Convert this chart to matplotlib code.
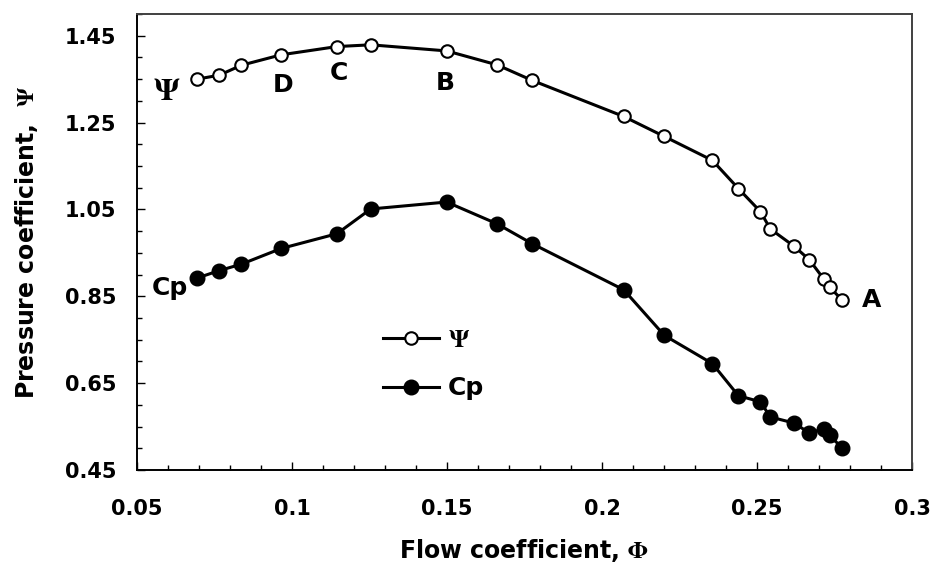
#!/usr/bin/env python3
"""Pressure coefficient vs flow coefficient (Psi and Cp curves)."""

import matplotlib
matplotlib.use("Agg")
import matplotlib.pyplot as plt
from matplotlib.ticker import MultipleLocator

# flow coefficient (shared by both curves)
PHI = [0.0694, 0.0765, 0.0837, 0.0965, 0.1145, 0.1254, 0.1499, 0.1661, 0.1775,
       0.2070, 0.2201, 0.2356, 0.2440, 0.2511, 0.2543, 0.2620, 0.2669, 0.2715,
       0.2734, 0.2774]
PSI = [1.350, 1.359, 1.382, 1.406, 1.425, 1.429, 1.415, 1.383, 1.347,
       1.264, 1.218, 1.163, 1.098, 1.045, 1.005, 0.965, 0.934, 0.890,
       0.871, 0.842]
CP = [0.892, 0.909, 0.924, 0.960, 0.994, 1.051, 1.067, 1.017, 0.971,
      0.865, 0.760, 0.695, 0.621, 0.607, 0.572, 0.558, 0.535, 0.545,
      0.530, 0.501]

X_TICKS = [0.05, 0.1, 0.15, 0.2, 0.25, 0.3]
X_TICK_LABELS = ["0.05", "0.1", "0.15", "0.2", "0.25", "0.3"]
Y_TICKS = [0.45, 0.65, 0.85, 1.05, 1.25, 1.45]
Y_TICK_LABELS = ["0.45", "0.65", "0.85", "1.05", "1.25", "1.45"]

# operating point labels: (text, x, y)
POINT_LABELS = [("D", 0.0971, 1.321), ("C", 0.1152, 1.349),
                ("B", 0.1494, 1.326), ("A", 0.2868, 0.826)]


def main() -> None:
    plt.rcParams.update(
        {
            "font.family": "DejaVu Sans",
            "font.weight": "bold",
            "mathtext.fontset": "stix",
            "axes.linewidth": 1.4,
        }
    )

    fig = plt.figure(figsize=(9.35, 5.64), dpi=100)
    ax = fig.add_axes([0.1465, 0.1667, 0.8289, 0.8085])

    ax.plot(PHI, PSI, color="black", linewidth=2.2, marker="o", markersize=9,
            markerfacecolor="white", markeredgecolor="black", markeredgewidth=1.5,
            label=r"$\Psi$", zorder=3)
    ax.plot(PHI, CP, color="black", linewidth=2.2, marker="o", markersize=10.5,
            markerfacecolor="black", markeredgecolor="black",
            label="Cp", zorder=3)

    for text, x, y in POINT_LABELS:
        ax.text(x, y, text, ha="center", va="baseline", fontsize=18, fontweight="bold")
    ax.text(0.0597, 1.3025, r"$\Psi$", ha="center", va="baseline", fontsize=23)
    ax.text(0.0606, 0.853, "Cp", ha="center", va="baseline", fontsize=18, fontweight="bold")

    ax.set_xlim(0.05, 0.3)
    ax.set_ylim(0.45, 1.5)
    ax.set_xticks(X_TICKS, X_TICK_LABELS)
    ax.xaxis.set_minor_locator(MultipleLocator(0.01))
    ax.set_yticks(Y_TICKS, Y_TICK_LABELS)
    ax.yaxis.set_minor_locator(MultipleLocator(0.05))

    ax.tick_params(which="both", direction="in", top=False, right=False,
                   labelsize=15, width=1.0)
    ax.tick_params(which="major", length=6)
    ax.tick_params(which="minor", length=3.6)
    ax.tick_params(axis="x", which="major", pad=21)
    ax.tick_params(axis="y", which="major", pad=15)
    for lab in ax.get_xticklabels() + ax.get_yticklabels():
        lab.set_fontweight("bold")

    for side in ("top", "right"):
        ax.spines[side].set_color("#404040")

    ax.set_xlabel(r"Flow coefficient, $\Phi$", fontsize=17, fontweight="bold", labelpad=13)
    ax.set_ylabel(r"Pressure coefficient,  $\Psi$", fontsize=17, fontweight="bold", labelpad=18)

    ax.legend(loc="upper left", bbox_to_anchor=(0.317, 0.311), frameon=False,
              fontsize=18, handlelength=2.24, handletextpad=0.36, labelspacing=0.97,
              borderpad=0, borderaxespad=0)

    fig.savefig("out.png", dpi=100)
    plt.close(fig)


if __name__ == "__main__":
    main()
